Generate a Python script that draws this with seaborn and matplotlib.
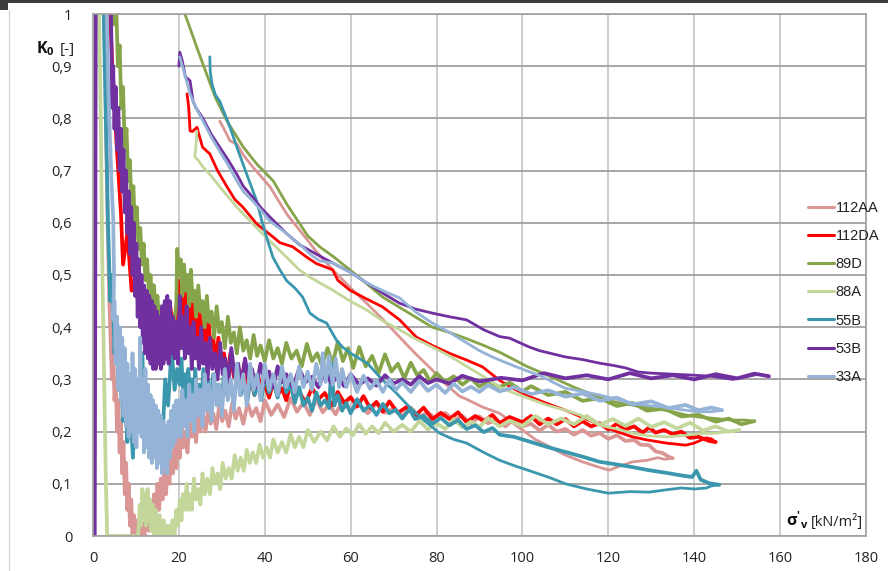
import numpy as np
import pandas as pd
import matplotlib
matplotlib.use("Agg")
import matplotlib.pyplot as plt
import seaborn as sns
from matplotlib.lines import Line2D
from matplotlib.patches import Rectangle

# ---------------- data (sigma'_v [kN/m2], K0 [-]) ----------------
series_names = ["112AA", "112DA", "89D", "88A", "55B", "53B", "33A"]
series_colors = ["#D99694", "#FF0000", "#86A44A", "#C4D79B", "#3A97AD", "#7030A0", "#95B3D7"]

x_ticks = [0, 20, 40, 60, 80, 100, 120, 140, 160, 180]
y_ticks = [0.0, 0.1, 0.2, 0.3, 0.4, 0.5, 0.6, 0.7, 0.8, 0.9, 1.0]
y_tick_labels = ["0", "0,1", "0,2", "0,3", "0,4", "0,5", "0,6", "0,7", "0,8", "0,9", "1"]

path_112AA = [
    (1.5, 1.3), (2.5, 1.05), (3.0, 0.8), (3.4, 0.6), (3.8, 0.45), (4.1, 0.38), (4.4, 0.3), (4.7, 0.36),
    (5.0, 0.26), (5.3, 0.3), (5.6, 0.2), (5.9, 0.26), (6.2, 0.16), (6.5, 0.22), (6.8, 0.12), (7.1, 0.18),
    (7.4, 0.08), (7.7, 0.14), (8.0, 0.05), (8.3, 0.1), (8.6, 0.02), (8.9, 0.07), (9.2, 0.0), (9.5, 0.04),
    (9.8, 0.0), (10.2, 0.03), (10.6, 0.0), (11, 0.0), (11.5, 0.03), (12, 0.0), (12.5, 0.05), (13, 0.01),
    (13.4, 0.06), (13.8, 0.02), (14.2, 0.08), (14.6, 0.03), (15, 0.1), (15.4, 0.05), (15.8, 0.11),
    (16.2, 0.07), (16.6, 0.13), (17, 0.08), (17.4, 0.14), (17.8, 0.1), (18.2, 0.16), (18.6, 0.12),
    (19, 0.18), (19.4, 0.13), (19.8, 0.19), (20.2, 0.15), (20.6, 0.21), (21, 0.17), (21.5, 0.2), (22, 0.16),
    (22.5, 0.23), (23, 0.19), (23.5, 0.22), (24, 0.18), (24.5, 0.24), (25, 0.2), (25.6, 0.23), (26.2, 0.2),
    (26.8, 0.245), (27.4, 0.215), (28, 0.235), (28.7, 0.205), (29.4, 0.25), (30.1, 0.22), (30.8, 0.24),
    (31.6, 0.21), (32.4, 0.255), (33.2, 0.225), (34, 0.245), (35, 0.215), (36, 0.255), (37, 0.23),
    (38, 0.245), (39, 0.22), (40, 0.26), (41.5, 0.232), (43, 0.252), (44.5, 0.228), (46, 0.264),
    (47.5, 0.238), (49, 0.256), (50.5, 0.232), (52, 0.262), (53.5, 0.237), (55, 0.252), (56.5, 0.233),
    (58, 0.258), (60, 0.24), (62, 0.252), (64, 0.235), (66, 0.254), (68, 0.236), (70, 0.245), (72, 0.23),
    (74, 0.246), (76, 0.228), (78, 0.237), (80, 0.222), (82, 0.236), (84, 0.222), (86, 0.23), (88, 0.216),
    (90, 0.229), (92, 0.216), (94, 0.222), (96, 0.21), (98, 0.223), (100, 0.21), (102, 0.215),
    (104, 0.202), (106, 0.213), (108, 0.2), (110, 0.205), (112, 0.194), (114, 0.203), (116, 0.192),
    (118, 0.197), (120, 0.186), (122, 0.193), (124, 0.182), (126, 0.184), (127.5, 0.175), (129.5, 0.174),
    (131, 0.162), (132.6, 0.159), (134, 0.152), (135, 0.149),
    (133, 0.147), (131.5, 0.15), (129, 0.145), (125.6, 0.142), (122, 0.132), (120.2, 0.126), (117, 0.134),
    (114, 0.142), (110, 0.155), (106.3, 0.171), (103, 0.185), (101, 0.197), (98, 0.215), (94.7, 0.235),
    (90.7, 0.247), (87, 0.262), (85.3, 0.268), (82, 0.292), (79, 0.318), (75, 0.35), (71.4, 0.381),
    (67.5, 0.415), (63.7, 0.446), (60, 0.475), (55.8, 0.51), (52, 0.545), (50.5, 0.561), (48.1, 0.586),
    (45.1, 0.617), (41.2, 0.669), (39, 0.69), (37.2, 0.707), (35, 0.73), (33.5, 0.751), (31.9, 0.757),
    (30.5, 0.78), (29.5, 0.795),
]

path_112DA = [
    (1.0, 1.3), (3.5, 1.1), (4.5, 0.9), (5.5, 0.75), (6.5, 0.62), (7, 0.52), (8, 0.58), (9, 0.47), (10, 0.5),
    (11, 0.42), (12, 0.46), (13, 0.4), (14, 0.48), (15, 0.38), (16, 0.42), (17, 0.36), (18, 0.44), (19, 0.37),
    (19.8, 0.49), (20.2, 0.44), (20.6, 0.47), (21, 0.42), (21.4, 0.48), (21.8, 0.43), (22.2, 0.45),
    (22.6, 0.40), (23, 0.46), (23.4, 0.41), (23.8, 0.43), (24.2, 0.38), (24.7, 0.44), (25.2, 0.39),
    (25.7, 0.41), (26.2, 0.36), (26.8, 0.42), (27.4, 0.36), (28, 0.38), (28.6, 0.33), (29.2, 0.38),
    (29.8, 0.33), (30.5, 0.35), (31.2, 0.30), (32, 0.35), (32.8, 0.305), (33.6, 0.32), (34.4, 0.28),
    (35.2, 0.33), (36, 0.29), (36.8, 0.30), (37.6, 0.27), (38.4, 0.31), (39.2, 0.275), (40, 0.29),
    (41, 0.265), (42, 0.295), (43, 0.27), (44, 0.283), (45, 0.26), (46, 0.29), (47, 0.268), (48, 0.277),
    (49.5, 0.255), (51, 0.284), (52.5, 0.262), (54, 0.274), (55.5, 0.25), (57, 0.276), (58.5, 0.255),
    (60, 0.266), (61.5, 0.248), (63, 0.268), (64.5, 0.245), (66, 0.257), (67.5, 0.238), (69, 0.258),
    (71, 0.236), (73, 0.247), (75, 0.23), (77, 0.246), (79, 0.224), (81, 0.236), (83, 0.224), (85, 0.237),
    (87, 0.218), (89, 0.23), (91, 0.22), (93, 0.232), (94.7, 0.216), (97, 0.228), (100, 0.218),
    (102, 0.23), (104, 0.214), (106, 0.225), (108, 0.214), (110, 0.224), (112, 0.21), (114, 0.22),
    (116, 0.21), (118, 0.216), (120, 0.204), (122, 0.215), (124, 0.204), (126, 0.21), (128, 0.198),
    (129.5, 0.208), (131, 0.198), (133, 0.203), (135, 0.195), (137, 0.2), (139, 0.188), (141, 0.19),
    (143.5, 0.182), (145, 0.18),
    (144, 0.186), (142.8, 0.188), (140, 0.178), (138, 0.174), (133.5, 0.178), (129, 0.184), (125.6, 0.19),
    (122, 0.2), (118, 0.213), (114, 0.227), (110, 0.241), (106, 0.253), (102, 0.266), (98, 0.282),
    (94.7, 0.298), (90.7, 0.324), (87, 0.337), (83, 0.35), (79, 0.365), (75.3, 0.381), (71.4, 0.414),
    (67.4, 0.439), (63.5, 0.455), (59.8, 0.471), (57, 0.49), (55.8, 0.51), (52, 0.522), (49.8, 0.534),
    (46.5, 0.554), (43.5, 0.562), (41.9, 0.573), (38.1, 0.598), (34.9, 0.63), (33, 0.645), (31.2, 0.669),
    (29, 0.7), (27.2, 0.732), (25.5, 0.745), (24.2, 0.783), (23.2, 0.775), (22.6, 0.776), (22.3, 0.82),
    (21.9, 0.847),
]

path_89D = [
    (1.5, 1.3), (4.5, 1.1), (5.0, 0.98), (5.4, 1.02), (5.8, 0.9), (6.2, 0.94), (6.6, 0.82), (7.0, 0.86),
    (7.4, 0.74), (7.8, 0.78), (8.2, 0.68), (8.6, 0.72), (9.0, 0.62), (9.4, 0.67), (9.8, 0.58), (10.2, 0.63),
    (10.6, 0.55), (11.0, 0.59), (11.4, 0.52), (11.8, 0.56), (12.2, 0.49), (12.6, 0.53), (13.0, 0.46),
    (13.4, 0.5), (13.8, 0.44), (14.2, 0.48), (14.6, 0.42), (15.0, 0.46), (15.4, 0.41), (15.8, 0.44),
    (16.2, 0.39), (16.6, 0.43), (17.0, 0.38), (17.4, 0.42), (17.8, 0.37), (18.2, 0.41), (18.6, 0.38),
    (19.0, 0.42), (19.4, 0.44), (19.6, 0.55), (20.0, 0.50), (20.4, 0.53), (20.8, 0.46), (21.2, 0.52),
    (21.6, 0.47), (22.0, 0.50), (22.4, 0.44), (22.8, 0.51), (23.2, 0.45), (23.6, 0.47), (24.0, 0.42),
    (24.5, 0.48), (25.0, 0.43), (25.5, 0.45), (26, 0.40), (26.5, 0.46), (27, 0.41), (27.6, 0.43),
    (28.2, 0.38), (28.8, 0.44), (29.4, 0.39), (30, 0.41), (30.7, 0.36), (31.4, 0.42), (32.1, 0.37),
    (32.8, 0.39), (33.5, 0.35), (34.2, 0.40), (35, 0.355), (35.8, 0.375), (36.6, 0.34), (37.4, 0.385),
    (38.2, 0.345), (39, 0.365), (40, 0.335), (41, 0.375), (42, 0.34), (43, 0.36), (44, 0.33), (45, 0.37),
    (46.2, 0.34), (47.4, 0.355), (48.6, 0.325), (49.8, 0.368), (51, 0.335), (52.2, 0.35), (53.4, 0.325),
    (54.6, 0.36), (55.8, 0.33), (57, 0.372), (58.2, 0.335), (59.4, 0.36), (60.6, 0.322), (62, 0.362),
    (63.5, 0.325), (65, 0.345), (66.5, 0.312), (68, 0.348), (69.5, 0.315), (71, 0.33), (72.5, 0.302),
    (74, 0.332), (75.5, 0.308), (77, 0.318), (78.5, 0.296), (80, 0.312), (82, 0.295), (84, 0.306),
    (86, 0.29), (88, 0.302), (90, 0.286), (92, 0.297), (94.7, 0.285), (97, 0.294), (100, 0.277),
    (102, 0.287), (106, 0.27), (110, 0.276), (114, 0.259), (118, 0.264), (122, 0.249), (125.6, 0.255),
    (129, 0.24), (133, 0.244), (137, 0.229), (141, 0.232), (145, 0.219), (148, 0.225), (151, 0.214),
    (154, 0.22),
    (152, 0.222), (148.8, 0.222), (145, 0.225), (141, 0.228), (138, 0.232), (134, 0.24), (130, 0.245),
    (126, 0.25), (122, 0.256), (120, 0.26), (116, 0.272), (112, 0.285), (108, 0.3), (104.7, 0.312),
    (101, 0.325), (98, 0.338), (94.7, 0.352), (91, 0.365), (87, 0.378), (83, 0.39), (79, 0.40), (75, 0.42),
    (71, 0.44), (67.4, 0.458), (63.5, 0.485), (59.8, 0.51), (56, 0.535), (52.8, 0.554), (50, 0.575),
    (48, 0.60), (45.1, 0.636), (42, 0.68), (38.1, 0.713), (35, 0.745), (31.2, 0.795), (28.5, 0.84),
    (25.6, 0.904), (24, 0.94), (22.5, 0.975), (21.4, 1.0), (20.8, 1.05),
]

path_88A = [
    (0.5, 1.3), (1.2, 1.1), (1.8, 0.8), (2.2, 0.5), (2.6, 0.3), (3.0, 0.1), (3.3, 0.0), (6, 0.0), (9, 0.0),
    (10.5, 0.0), (10.9, 0.06), (11.2, 0.02), (11.5, 0.09), (11.8, 0.03), (12.1, 0.08), (12.4, 0.02),
    (12.7, 0.09), (13, 0.03), (13.3, 0.07), (13.6, 0.01), (13.9, 0.06), (14.2, 0.0), (14.6, 0.05), (15, 0.0),
    (15.5, 0.04), (16, 0.0), (16.5, 0.03), (17, 0.0), (17.5, 0.02), (18, 0.0), (18.5, 0.03), (19, 0.0),
    (19.4, 0.05), (19.8, 0.02), (20.2, 0.07), (20.6, 0.03), (21, 0.08), (21.4, 0.05), (21.8, 0.1),
    (22.2, 0.05), (22.6, 0.08), (23, 0.05), (23.5, 0.11), (24, 0.07), (24.5, 0.09), (25, 0.06), (25.5, 0.12),
    (26, 0.08), (26.6, 0.11), (27.2, 0.08), (27.8, 0.13), (28.4, 0.1), (29, 0.12), (29.6, 0.09),
    (30.2, 0.14), (30.9, 0.11), (31.6, 0.13), (32.3, 0.11), (33, 0.155), (33.7, 0.125), (34.4, 0.15),
    (35.1, 0.125), (35.8, 0.165), (36.5, 0.14), (37.2, 0.16), (38, 0.14), (38.8, 0.175), (39.6, 0.15),
    (40.4, 0.17), (41.2, 0.15), (42, 0.185), (43, 0.16), (44, 0.18), (45, 0.16), (46, 0.195), (47, 0.17),
    (48, 0.19), (49, 0.17), (50, 0.203), (51.5, 0.18), (53, 0.2), (54.5, 0.183), (56, 0.21), (57.5, 0.19),
    (59, 0.206), (60.5, 0.193), (62, 0.214), (63.5, 0.196), (65, 0.21), (66.5, 0.197), (68, 0.217),
    (70, 0.2), (72, 0.213), (74, 0.2), (76, 0.22), (78, 0.204), (80, 0.216), (82, 0.205), (84, 0.224),
    (86, 0.208), (88, 0.219), (90, 0.209), (92, 0.226), (94.7, 0.21), (97, 0.221), (100, 0.211),
    (103, 0.23), (106, 0.214), (109, 0.225), (112, 0.214), (115, 0.23), (118, 0.213), (121, 0.224),
    (124, 0.211), (127, 0.225), (130, 0.209), (133, 0.218), (136, 0.206), (139, 0.217), (142, 0.202),
    (145, 0.21), (148, 0.2), (150.5, 0.203),
    (148, 0.2), (145, 0.197), (141, 0.196), (137, 0.192), (133.5, 0.19), (129, 0.192), (125.6, 0.197),
    (122, 0.205), (118, 0.212), (114, 0.23), (110, 0.241), (106, 0.25), (102, 0.262), (98, 0.274),
    (94.7, 0.285), (91, 0.305), (87, 0.325), (83, 0.345), (79, 0.362), (75, 0.378), (71.4, 0.395),
    (67.5, 0.412), (63.7, 0.433), (59.5, 0.452), (55.8, 0.471), (52.8, 0.485), (50.5, 0.496), (48, 0.51),
    (45.1, 0.534), (41.2, 0.565), (37.2, 0.598), (33.5, 0.63), (29.5, 0.669), (27.5, 0.69), (25.6, 0.707),
    (24.5, 0.72), (23.7, 0.726), (24.0, 0.75), (24.2, 0.776),
]

path_55B = [
    (1.5, 1.3), (2.5, 1.0), (3.0, 0.8), (3.5, 0.6), (4, 0.45), (4.5, 0.5), (5, 0.35), (5.5, 0.42), (6, 0.28),
    (6.5, 0.33), (7, 0.22), (7.5, 0.3), (8, 0.18), (8.5, 0.26), (9.3, 0.15), (10, 0.3), (10.8, 0.22),
    (11.5, 0.35), (12, 0.2), (12.8, 0.28), (13.5, 0.15), (14.2, 0.25), (15, 0.18), (16, 0.15), (16.8, 0.3),
    (17.5, 0.25), (18.3, 0.36), (19, 0.28), (19.6, 0.32), (20.2, 0.29), (20.6, 0.34), (21, 0.27),
    (21.4, 0.31), (21.8, 0.25), (22.2, 0.32), (22.6, 0.27), (23, 0.30), (23.4, 0.24), (23.8, 0.32),
    (24.2, 0.27), (24.7, 0.29), (25.2, 0.25), (25.7, 0.32), (26.2, 0.26), (26.8, 0.30), (27.4, 0.25),
    (28, 0.31), (28.6, 0.26), (29.2, 0.29), (29.8, 0.25), (30.5, 0.31), (31.2, 0.27), (32, 0.29),
    (32.8, 0.26), (33.6, 0.31), (34.4, 0.27), (35.2, 0.29), (36, 0.26), (36.8, 0.31), (37.6, 0.27),
    (38.4, 0.29), (39.2, 0.26), (40, 0.31), (41, 0.275), (42, 0.295), (43, 0.265), (44, 0.315),
    (45, 0.275), (46, 0.29), (47, 0.255), (48, 0.285), (49, 0.25), (50, 0.265), (51, 0.24), (52, 0.275),
    (53, 0.25), (54, 0.26), (55, 0.245), (55.5, 0.33), (56.2, 0.25), (57, 0.27), (58, 0.24), (59, 0.255),
    (60, 0.235), (61.5, 0.262), (63, 0.24), (64.5, 0.25), (66, 0.232), (67.5, 0.253), (69, 0.235),
    (70.5, 0.242), (72, 0.225), (73.7, 0.243), (75, 0.224), (77, 0.23), (79, 0.215), (81, 0.226),
    (83, 0.212), (85, 0.222), (87, 0.205), (89, 0.212), (91, 0.199), (93, 0.207), (94.7, 0.194), (98, 0.19),
    (102, 0.18), (106, 0.17), (110, 0.161), (114, 0.152), (118, 0.142), (122, 0.137), (125.6, 0.132),
    (129.5, 0.126), (133.5, 0.121), (137, 0.116), (139.5, 0.113), (140.5, 0.125), (141.5, 0.108),
    (143.5, 0.101), (145.8, 0.098),
    (144, 0.096), (142.8, 0.092), (140, 0.09), (137, 0.092), (133, 0.088), (129.5, 0.084), (125, 0.085),
    (120, 0.082), (115, 0.09), (110, 0.1), (106.3, 0.112), (102, 0.124), (98, 0.135), (94.7, 0.145),
    (91, 0.16), (87, 0.178), (84, 0.185), (80.7, 0.197), (77, 0.222), (73.7, 0.247), (70.5, 0.275),
    (67.4, 0.299), (64, 0.33), (60, 0.35), (58.1, 0.362), (56.7, 0.375), (54.4, 0.408), (52.5, 0.415),
    (50.5, 0.427), (48.8, 0.458), (47, 0.475), (45.1, 0.489), (43.5, 0.51), (41.9, 0.534), (40.5, 0.57),
    (39.5, 0.598), (38.1, 0.642), (35.8, 0.693), (33.5, 0.745), (31.9, 0.783), (29.5, 0.833), (28.5, 0.845),
    (27.7, 0.866), (27.3, 0.89), (27.2, 0.918),
]

path_53B = [
    (0.4, 0.0), (0.5, 0.37), (0.7, 1.3), (3.8, 1.3), (4.2, 1.0), (4.5, 0.82), (4.7, 0.9), (5.0, 0.78),
    (5.3, 0.86), (5.6, 0.74), (5.9, 0.82), (6.2, 0.70), (6.5, 0.78), (6.8, 0.66), (7.1, 0.74), (7.4, 0.62),
    (7.7, 0.70), (8.0, 0.58), (8.3, 0.66), (8.6, 0.54), (8.9, 0.63), (9.2, 0.5), (9.5, 0.6), (9.8, 0.46),
    (10.1, 0.56), (10.4, 0.42), (10.7, 0.53), (11.0, 0.40), (11.3, 0.50), (11.6, 0.37), (11.9, 0.48),
    (12.2, 0.35), (12.5, 0.47), (12.8, 0.34), (13.1, 0.46), (13.4, 0.33), (13.7, 0.45), (14.0, 0.32),
    (14.3, 0.44), (14.6, 0.32), (14.9, 0.43), (15.2, 0.33), (15.5, 0.42), (15.8, 0.32), (16.1, 0.44),
    (16.4, 0.33), (16.7, 0.45), (17.0, 0.34), (17.3, 0.46), (17.6, 0.33), (17.9, 0.45), (18.2, 0.35),
    (18.6, 0.42), (19.0, 0.34), (19.4, 0.41), (19.8, 0.33), (20.2, 0.46), (20.6, 0.36), (21.0, 0.42),
    (21.4, 0.34), (21.8, 0.44), (22.2, 0.35), (22.6, 0.40), (23.0, 0.32), (23.4, 0.41), (23.8, 0.34),
    (24.2, 0.38), (24.7, 0.32), (25.2, 0.40), (25.7, 0.33), (26.2, 0.37), (26.7, 0.30), (27.2, 0.38),
    (27.8, 0.32), (28.4, 0.35), (29, 0.30), (29.6, 0.37), (30.2, 0.31), (30.8, 0.34), (31.5, 0.29),
    (32.2, 0.36), (33, 0.305), (33.8, 0.33), (34.6, 0.29), (35.4, 0.34), (36.2, 0.30), (37, 0.32),
    (38, 0.285), (39, 0.33), (40, 0.295), (41, 0.315), (42, 0.285), (43, 0.325), (44, 0.295), (45, 0.31),
    (46.5, 0.285), (48, 0.32), (49.5, 0.295), (51, 0.305), (52.5, 0.285), (54, 0.315), (55.5, 0.293),
    (57, 0.305), (58.5, 0.287), (60, 0.31), (62, 0.29), (64, 0.302), (66, 0.288), (68, 0.308), (70, 0.292),
    (72, 0.3), (74, 0.29), (76, 0.306), (78, 0.293), (80, 0.3), (83, 0.292), (86, 0.307), (90, 0.296),
    (95, 0.303), (100, 0.298), (105, 0.312), (110, 0.302), (115, 0.308), (120, 0.3), (125, 0.312),
    (130, 0.302), (135, 0.308), (140, 0.3), (145, 0.31), (150, 0.302), (154, 0.311), (157.4, 0.306),
    (155, 0.31), (152, 0.305), (149, 0.3), (147.4, 0.302), (144, 0.306), (140, 0.308), (135, 0.31),
    (130, 0.312), (127, 0.314), (124, 0.322), (121, 0.327), (118, 0.331), (114, 0.338), (110, 0.343),
    (108, 0.347), (104, 0.355), (101.6, 0.362), (97, 0.379), (94.7, 0.382), (91, 0.395), (87, 0.414),
    (83, 0.42), (79, 0.427), (75, 0.435), (71.4, 0.446), (67.5, 0.465), (63.7, 0.485), (60, 0.505),
    (55.8, 0.523), (52, 0.54), (48.1, 0.558), (45, 0.58), (41.2, 0.611), (39, 0.63), (37.2, 0.649),
    (35, 0.67), (33.5, 0.693), (31.5, 0.72), (29.5, 0.745), (27.5, 0.77), (25.6, 0.80), (24, 0.82),
    (23.3, 0.833), (22.6, 0.872), (21.5, 0.88), (20.8, 0.91), (20.2, 0.927), (20.0, 0.9),
]

path_33A = [
    (1.0, 1.3), (2.5, 1.2), (3.2, 1.0), (3.6, 0.85), (4, 0.749), (4.3, 0.68), (4.7, 0.609), (4.9, 0.5),
    (4.7, 0.414), (5.0, 0.45), (5.3, 0.33), (5.6, 0.42), (5.9, 0.28), (6.2, 0.40), (6.5, 0.26), (6.8, 0.38),
    (7.1, 0.23), (7.4, 0.36), (7.7, 0.21), (8.0, 0.33), (8.3, 0.19), (8.6, 0.31), (8.9, 0.2), (9.2, 0.35),
    (9.5, 0.18), (9.8, 0.32), (10.1, 0.17), (10.4, 0.3), (10.7, 0.2), (11.0, 0.38), (11.3, 0.19),
    (11.6, 0.3), (11.9, 0.16), (12.2, 0.32), (12.5, 0.17), (12.8, 0.29), (13.1, 0.15), (13.4, 0.27),
    (13.7, 0.14), (14.0, 0.26), (14.3, 0.15), (14.6, 0.25), (14.9, 0.13), (15.2, 0.24), (15.5, 0.14),
    (15.8, 0.23), (16.1, 0.12), (16.4, 0.22), (16.7, 0.13), (17.0, 0.21), (17.3, 0.12), (17.6, 0.22),
    (17.9, 0.15), (18.2, 0.24), (18.5, 0.17), (18.8, 0.25), (19.1, 0.18), (19.4, 0.26), (19.7, 0.19),
    (20.0, 0.26), (20.4, 0.19), (20.8, 0.28), (21.2, 0.21), (21.6, 0.26), (22, 0.19), (22.4, 0.29),
    (22.8, 0.22), (23.2, 0.27), (23.6, 0.20), (24, 0.30), (24.5, 0.23), (25, 0.28), (25.5, 0.21), (26, 0.31),
    (26.5, 0.24), (27, 0.29), (27.6, 0.22), (28.2, 0.31), (28.8, 0.25), (29.4, 0.29), (30, 0.23),
    (30.7, 0.32), (31.4, 0.26), (32.1, 0.30), (32.8, 0.24), (33.5, 0.33), (34.2, 0.27), (35, 0.31),
    (35.8, 0.25), (36.6, 0.33), (37.4, 0.28), (38.2, 0.31), (39, 0.26), (40, 0.33), (41, 0.28), (42, 0.31),
    (43, 0.27), (44, 0.325), (45, 0.285), (46, 0.31), (47, 0.275), (48, 0.325), (49, 0.285), (50, 0.315),
    (51, 0.28), (52, 0.33), (53, 0.29), (53.5, 0.35), (54.2, 0.295), (55, 0.345), (55.8, 0.29),
    (56.5, 0.34), (57.3, 0.285), (58, 0.32), (59, 0.285), (60, 0.31), (61.5, 0.276), (63, 0.307),
    (64.5, 0.282), (66, 0.298), (67.5, 0.276), (69, 0.3), (70.5, 0.28), (72, 0.294), (74, 0.276),
    (76, 0.297), (78, 0.278), (80, 0.29), (82, 0.274), (84, 0.292), (86, 0.277), (88, 0.286), (90, 0.276),
    (92, 0.289), (94.7, 0.277), (98, 0.285), (102, 0.272), (106, 0.279), (110, 0.267), (114, 0.273),
    (118, 0.259), (122, 0.265), (125.6, 0.252), (130, 0.258), (134, 0.245), (138, 0.251), (141, 0.241),
    (144, 0.246), (146.5, 0.241),
    (144, 0.238), (141, 0.238), (137, 0.242), (133, 0.247), (129, 0.25), (125.6, 0.254), (122, 0.262),
    (118, 0.27), (114, 0.277), (110, 0.283), (107, 0.295), (104.7, 0.305), (101.5, 0.315), (98.6, 0.324),
    (94.7, 0.337), (93, 0.343), (90, 0.355), (87, 0.37), (83, 0.39), (79, 0.408), (75, 0.43), (71.4, 0.456),
    (67.5, 0.47), (63.7, 0.485), (60, 0.505), (55.8, 0.523), (52.8, 0.527), (50.5, 0.54), (48.8, 0.554),
    (45, 0.58), (41.2, 0.603), (39, 0.625), (37.2, 0.642), (35, 0.66), (33.5, 0.68), (31.5, 0.71),
    (29.5, 0.737), (27.5, 0.765), (25.6, 0.795), (24, 0.82), (22.6, 0.847), (21.5, 0.88), (20.2, 0.918),
]

series_paths = [path_112AA, path_112DA, path_89D, path_88A, path_55B, path_53B, path_33A]

# ---------------- figure ----------------
sns.set_theme(style="white")
plt.rcParams["font.family"] = ["Open Sans", "DejaVu Sans"]
plt.rcParams["mathtext.fontset"] = "custom"
plt.rcParams["mathtext.rm"] = "Open Sans"
plt.rcParams["mathtext.bf"] = "Open Sans:bold"

W, H = 888, 571
fig = plt.figure(figsize=(W / 100, H / 100), dpi=100)
fig.patch.set_facecolor("white")
ax = fig.add_axes([93 / W, 1 - 536 / H, (866 - 93) / W, (536 - 14) / H])
ax.set_facecolor("white")

for name, color, path in zip(series_names, series_colors, series_paths):
    df = pd.DataFrame(path, columns=["sigma", "K0"])
    imax = int(df["sigma"].idxmax())
    loading = df.iloc[: imax + 1]
    unloading = df.iloc[imax:]
    sns.lineplot(data=loading, x="sigma", y="K0", sort=False, estimator=None,
                 color=color, linewidth=2.7, ax=ax, legend=False)
    sns.lineplot(data=unloading, x="sigma", y="K0", sort=False, estimator=None,
                 color=color, linewidth=2.0, ax=ax, legend=False)

ax.set_xlim(0, 180)
ax.set_ylim(0, 1)
ax.set_xticks(x_ticks)
ax.set_xticklabels([str(v) for v in x_ticks])
ax.set_yticks(y_ticks)
ax.set_yticklabels(y_tick_labels)
ax.set_xlabel("")
ax.set_ylabel("")

ax.set_axisbelow(True)
ax.xaxis.grid(True, color="#C4C4C4", linewidth=1.2)
ax.yaxis.grid(True, color="#A0A0A0", linewidth=1.3)
for side in ["left", "bottom", "top", "right"]:
    ax.spines[side].set_visible(True)
    ax.spines[side].set_color("#A0A0A0")
    ax.spines[side].set_linewidth(1.2)

ax.tick_params(axis="both", which="major", length=5, width=1.1, color="#A0A0A0",
               labelsize=10.5, labelcolor="#222222")
ax.tick_params(axis="y", pad=10)
ax.tick_params(axis="x", pad=6)

# axis titles
fig.text(36 / W, 1 - 53 / H, r"$\mathbf{K_0}$", fontsize=11.5, color="#111111", ha="left", va="baseline")
fig.text(60 / W, 1 - 53 / H, "[-]", fontsize=11, color="#222222", ha="left", va="baseline")
fig.text(786 / W, 1 - 526 / H, r"$\mathbf{\sigma'_v}$", fontsize=11.5, color="#111111", ha="left", va="baseline")
fig.text(811 / W, 1 - 526 / H, "[kN/m²]", fontsize=10.5, color="#222222", ha="left", va="baseline")

# legend
handles = [Line2D([0], [0], color=c, linewidth=2.2) for c in series_colors]
leg = ax.legend(handles, series_names, loc="upper left",
                bbox_to_anchor=(808 / W, 1 - 201 / H), bbox_transform=fig.transFigure,
                frameon=False, fontsize=10.5, handlelength=1.75, handletextpad=0.15,
                labelspacing=0.97, borderaxespad=0, borderpad=0)
for t in leg.get_texts():
    t.set_family(["Liberation Sans", "DejaVu Sans"])
    t.set_color("#222222")

# screenshot frame details
fig.patches.append(Rectangle((0, 1 - 3 / H), 1, 3 / H, transform=fig.transFigure,
                             facecolor="#3C3C3C", edgecolor="none", zorder=10))
fig.patches.append(Rectangle((0, 1 - 10 / H), 8 / W, 10 / H, transform=fig.transFigure,
                             facecolor="#3C3C3C", edgecolor="none", zorder=10))
fig.lines.append(Line2D([8.5 / W, 8.5 / W], [0, 1 - 10 / H], transform=fig.transFigure,
                        color="#D0D0D0", linewidth=0.8))

fig.savefig("out.png", dpi=100, facecolor="white")
